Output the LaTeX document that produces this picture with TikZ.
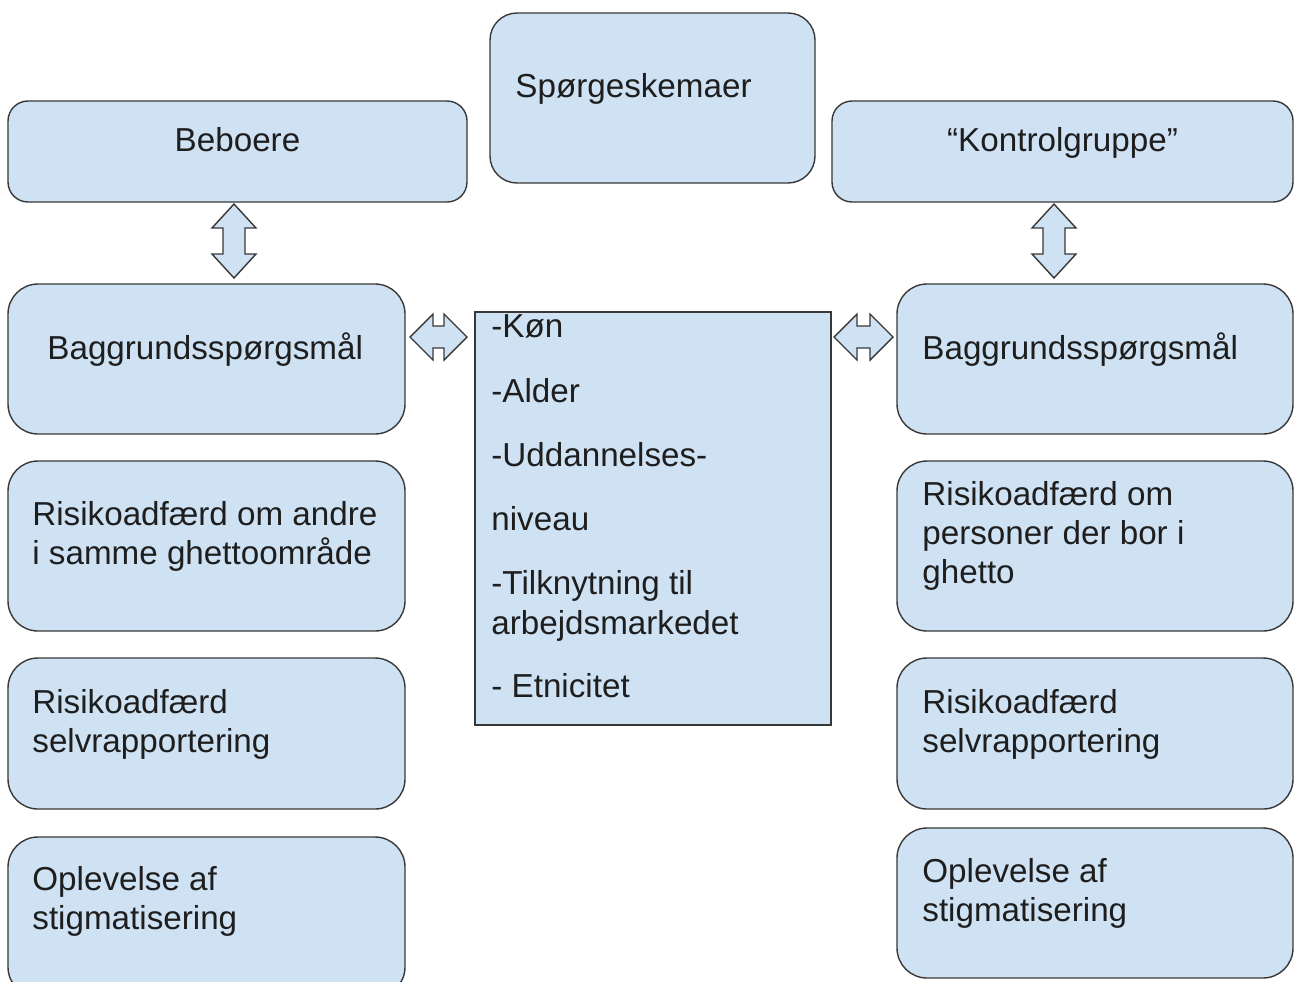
\documentclass[tikz,border=0pt]{standalone}
\usepackage{fontspec}
\setmainfont{Liberation Sans}
\definecolor{boxfill}{HTML}{CFE2F3}
\definecolor{boxline}{HTML}{383838}
\definecolor{txtcol}{HTML}{1E1E1E}
\newcommand\vdarr[3]{%
  \draw[blockarrow] (#1,#2) -- (#1+22,#2+24) -- (#1+11,#2+24) -- (#1+11,#3-24) -- (#1+22,#3-24) -- (#1,#3)
   -- (#1-22,#3-24) -- (#1-11,#3-24) -- (#1-11,#2+24) -- (#1-22,#2+24) -- cycle;}
\newcommand\hdarr[3]{%
  \draw[blockarrow] (#1,#3) -- (#1+23,#3-23) -- (#1+23,#3-11) -- (#2-23,#3-11) -- (#2-23,#3-23) -- (#2,#3)
   -- (#2-23,#3+23) -- (#2-23,#3+11) -- (#1+23,#3+11) -- (#1+23,#3+23) -- cycle;}
\begin{document}
\begin{tikzpicture}[x=0.5pt,y=-0.5pt,
  box/.style={draw=boxline,fill=boxfill,line width=0.7pt,inner sep=0pt,outer sep=0pt,anchor=north west,rectangle},
  blockarrow/.style={draw=boxline,fill=boxfill,line width=0.7pt,line join=miter},
  txt/.style={inner sep=0pt,anchor=base west,text=txtcol,font=\fontsize{16.6}{19.5}\selectfont},
  ctxt/.style={txt,anchor=base}]
\useasboundingbox (0,0) rectangle (1296,981);
% boxes
\node[box,rounded corners=10pt,minimum width=229.5pt,minimum height=50.5pt] (beb) at (8,101) {};
\node[box,rounded corners=13.5pt,minimum width=162.5pt,minimum height=85pt] (spq) at (490,13) {};
\node[box,rounded corners=10pt,minimum width=230.5pt,minimum height=50.5pt] (ktr) at (832,101) {};
\node[box,rounded corners=15pt,minimum width=198.5pt,minimum height=75pt] (lbg) at (8,284) {};
\node[box,rounded corners=15pt,minimum width=198pt,minimum height=75pt] (rbg) at (897,284) {};
\node[box,rounded corners=15pt,minimum width=198.5pt,minimum height=85pt] (lr1) at (8,461) {};
\node[box,rounded corners=15pt,minimum width=198pt,minimum height=85pt] (rr1) at (897,461) {};
\node[box,rounded corners=15pt,minimum width=198.5pt,minimum height=75.5pt] (lr2) at (8,658) {};
\node[box,rounded corners=15pt,minimum width=198pt,minimum height=75.5pt] (rr2) at (897,658) {};
\node[box,rounded corners=15pt,minimum width=198.5pt,minimum height=80pt] (lop) at (8,837) {};
\node[box,rounded corners=15pt,minimum width=198pt,minimum height=75pt] (rop) at (897,828) {};
\node[box,minimum width=178pt,minimum height=206.5pt] (ctr) at (475,312) {};
% texts
\node[ctxt] (tbeb) at (237.5,151) {Beboere};
\node[txt] (tspq) at (515,97) {Spørgeskemaer};
\node[ctxt] (tktr) at (1062.5,151) {“Kontrolgruppe”};
\node[txt] (tlbg) at (47,359) {Baggrundsspørgsmål};
\node[txt] (trbg) at (922,359) {Baggrundsspørgsmål};
\node[txt] (tlr1) at (32,525) {\begin{tabular}[t]{@{}l@{}}Risikoadfærd om andre\\i samme ghettoområde\end{tabular}};
\node[txt] (trr1) at (922,505) {\begin{tabular}[t]{@{}l@{}}Risikoadfærd om\\personer der bor i\\ghetto\end{tabular}};
\node[txt] (tlr2) at (32,713) {\begin{tabular}[t]{@{}l@{}}Risikoadfærd\\selvrapportering\end{tabular}};
\node[txt] (trr2) at (922,713) {\begin{tabular}[t]{@{}l@{}}Risikoadfærd\\selvrapportering\end{tabular}};
\node[txt] (tlop) at (32,890) {\begin{tabular}[t]{@{}l@{}}Oplevelse af\\stigmatisering\end{tabular}};
\node[txt] (trop) at (922,882) {\begin{tabular}[t]{@{}l@{}}Oplevelse af\\stigmatisering\end{tabular}};
\node[txt,font=\fontsize{16.6}{20}\selectfont] (tctr) at (491,337) {\begin{tabular}[t]{@{}l@{}}-Køn\\[12.5pt]-Alder\\[12pt]-Uddannelses-\\[12pt]niveau\\[12pt]-Tilknytning til\\arbejdsmarkedet\\[11.5pt]- Etnicitet\end{tabular}};
% block arrows
\vdarr{234}{204}{278}
\vdarr{1054}{204}{278}
\hdarr{410}{467}{337}
\hdarr{834}{893}{337}
\end{tikzpicture}
\end{document}
